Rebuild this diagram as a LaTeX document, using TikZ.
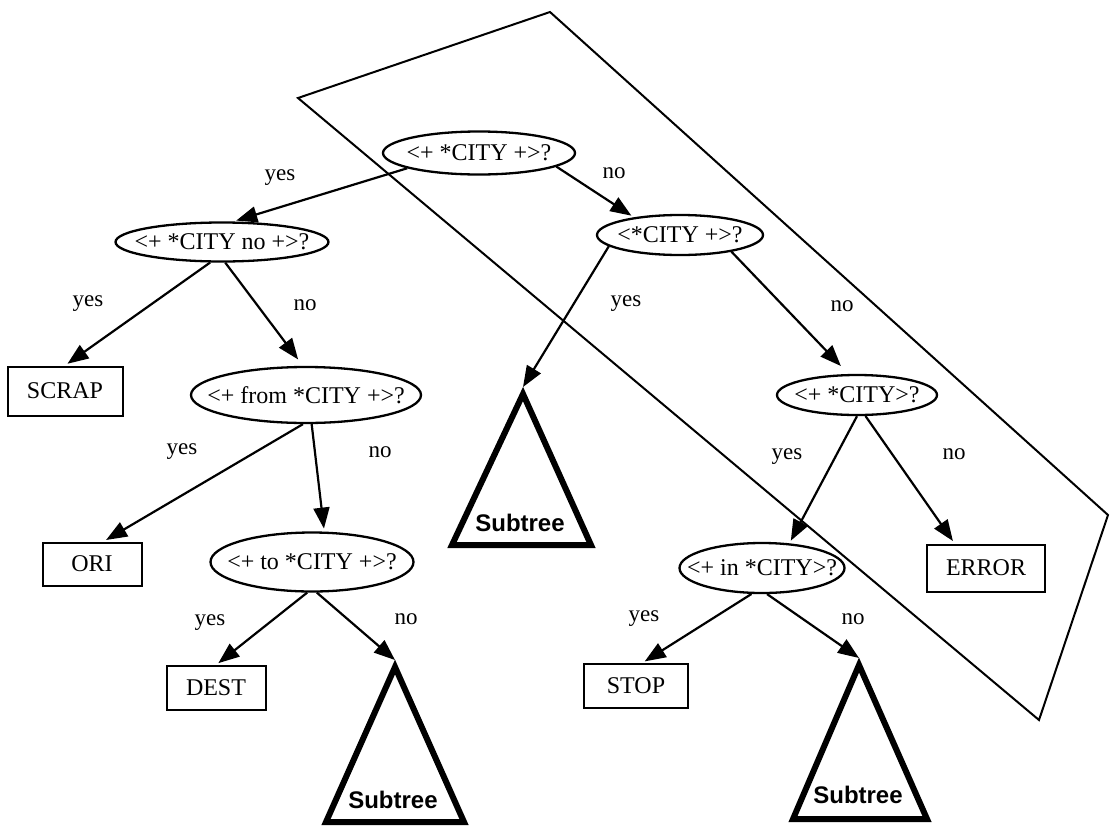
\documentclass[tikz,border=0pt]{standalone}
\usepackage{fontspec}
\setmainfont{Liberation Serif}
\newfontfamily\subfont{Liberation Sans}
\usetikzlibrary{shapes.geometric,arrows.meta}

% text of a test node is given no width, so the ellipse size is set by its minimum width/height
\newcommand\qtext[1]{\makebox[0pt]{#1}}

\tikzset{
  test/.style={ellipse, draw, line width=2.3pt, inner sep=0pt,
    font=\fontsize{24}{28}\selectfont},
  leaf/.style={rectangle, draw, line width=2pt, inner sep=0pt,
    font=\fontsize{24}{28}\selectfont},
  branch/.style={line width=2.2pt, -{Triangle[length=21pt,width=16pt]},
    shorten >=3pt},
  lbl/.style={font=\fontsize{23}{26}\selectfont, inner sep=0pt},
  subtree/.style={line width=6pt, line join=miter},
  subtxt/.style={font=\subfont\bfseries\fontsize{24}{28}\selectfont, inner sep=0pt},
  region/.style={line width=2pt, line join=miter},
}

\begin{document}
\begin{tikzpicture}[x=1pt, y=-1pt]
\useasboundingbox (0,0) rectangle (1111,830);

% highlighted region of the tree
\draw[region] (298,98) -- (550,12) -- (1108,515) -- (1039,720) -- cycle;

% test nodes
\node[test, minimum width=192pt, minimum height=43pt] (e1) at (479,153) {\qtext{<+ *CITY +>?}};
\node[test, minimum width=213pt, minimum height=39pt] (e2) at (222,242) {\qtext{<+ *CITY no +>?}};
\node[test, minimum width=166pt, minimum height=40pt] (e3) at (680,235) {\qtext{<*CITY +>?}};
\node[test, minimum width=230pt, minimum height=56pt] (e4) at (306,395) {\qtext{<+ from *CITY +>?}};
\node[test, minimum width=160pt, minimum height=40pt] (e5) at (857,395) {\qtext{<+ *CITY>?}};
\node[test, minimum width=203pt, minimum height=59pt] (e6) at (312,562) {\qtext{<+ to *CITY +>?}};
\node[test, minimum width=165pt, minimum height=50pt] (e7) at (762,568) {\qtext{<+ in *CITY>?}};

% leaves
\node[leaf, minimum width=115pt, minimum height=49pt] (scrap) at (65,391) {SCRAP};
\node[leaf, minimum width=99pt, minimum height=43pt] (ori) at (92,564) {ORI};
\node[leaf, minimum width=99pt, minimum height=44pt] (dest) at (216,688) {DEST};
\node[leaf, minimum width=104pt, minimum height=44pt] (stop) at (636,686) {STOP};
\node[leaf, minimum width=118pt, minimum height=47pt] (error) at (986,568) {ERROR};

% subtrees
\draw[subtree] (523,394) -- (591,545) -- (452,545) -- cycle;
\coordinate (t2) at (523,387);
\node[subtxt] (s2) at (520,523) {Subtree};

\draw[subtree] (395,667) -- (464,822) -- (326,822) -- cycle;
\coordinate (t1) at (395,660);
\node[subtxt] (s1) at (393,800) {Subtree};

\draw[subtree] (859,665) -- (927,819) -- (793,819) -- cycle;
\coordinate (t3) at (859,658);
\node[subtxt] (s3) at (858,795) {Subtree};

% branches
\draw[branch] (e1.192) -- (e2.61);
\draw[branch] (e1.350) -- (e3.159);
\draw[branch] (e2.240) -- (scrap.north);
\draw[branch, shorten >=8pt] (e2.279) -- (e4.96);
\draw[branch] (e4.264) -- (ori.63);
\draw[branch] (e4.281) -- (e6.68);
\draw[branch] (e6.261) -- (dest.north);
\draw[branch, shorten >=0pt] (e6.279) -- (t1);
\draw[branch, shorten >=0pt] (e3.189) -- (t2);
\draw[branch, shorten >=11pt] (e3.342) -- (e5.112);
\draw[branch] (e5.270) -- (e7.42);
\draw[branch] (e5.292) -- (error.142);
\draw[branch] (e7.248) -- (stop.75);
\draw[branch, shorten >=0pt] (e7.281) -- (t3);

% branch labels
\node[lbl] (l1) at (280,178) {yes};
\node[lbl] (l2) at (614,173) {no};
\node[lbl] (l3) at (88,304) {yes};
\node[lbl] (l4) at (305,305) {no};
\node[lbl] (l5) at (182,452) {yes};
\node[lbl] (l6) at (380,452) {no};
\node[lbl] (l7) at (210,623) {yes};
\node[lbl] (l8) at (406,619) {no};
\node[lbl] (l9) at (626,304) {yes};
\node[lbl] (l10) at (842,306) {no};
\node[lbl] (l11) at (787,457) {yes};
\node[lbl] (l12) at (954,454) {no};
\node[lbl] (l13) at (644,619) {yes};
\node[lbl] (l14) at (853,619) {no};
\end{tikzpicture}
\end{document}
